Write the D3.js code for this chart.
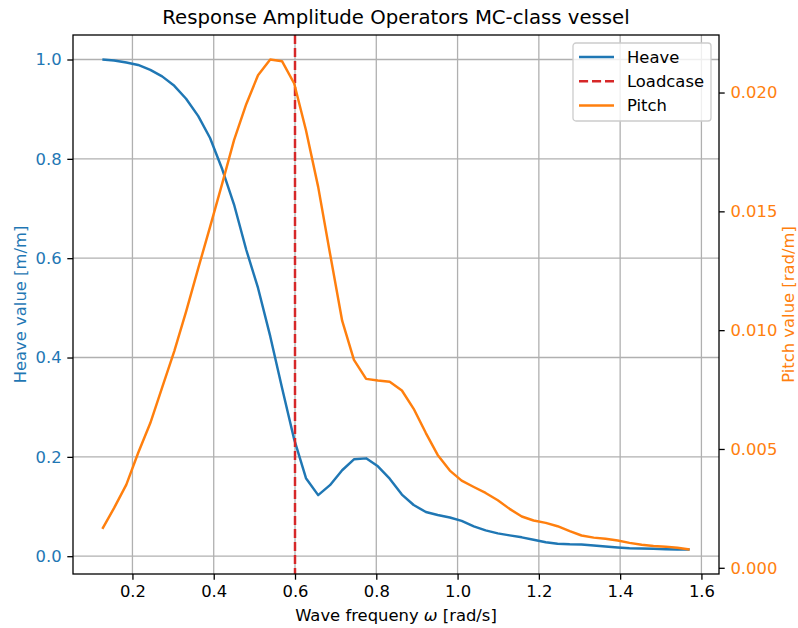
<!DOCTYPE html>
<html>
<head>
<meta charset="utf-8">
<script src="https://cdn.jsdelivr.net/npm/d3@7"></script>
<style>
    body { margin: 0; background: #fff; }
    #chart-area { width: 798px; height: 628px; }
    text { font-family: "DejaVu Sans", sans-serif; }
</style>
</head>
<body>
<div id="chart-area"></div>
<script>

// wave frequencies [rad/s]
var omega = [0.126, 0.155, 0.185, 0.214, 0.244, 0.273, 0.303, 0.332, 0.362, 0.391,
    0.421, 0.450, 0.480, 0.509, 0.539, 0.568, 0.598, 0.627, 0.657, 0.686,
    0.716, 0.745, 0.775, 0.804, 0.833, 0.863, 0.892, 0.922, 0.951, 0.981,
    1.010, 1.040, 1.069, 1.099, 1.128, 1.158, 1.187, 1.217, 1.246, 1.276,
    1.305, 1.335, 1.364, 1.394, 1.423, 1.453, 1.482, 1.512, 1.541, 1.571];

// heave RAO [m/m]
var heave = [1.000, 0.998, 0.994, 0.989, 0.979, 0.966, 0.947, 0.921, 0.886, 0.842,
    0.779, 0.708, 0.617, 0.540, 0.443, 0.339, 0.235, 0.157, 0.123, 0.143,
    0.173, 0.195, 0.197, 0.181, 0.156, 0.124, 0.103, 0.089, 0.083, 0.078,
    0.071, 0.060, 0.052, 0.046, 0.042, 0.038, 0.033, 0.028, 0.025, 0.024,
    0.0236, 0.0215, 0.0195, 0.0175, 0.016, 0.0155, 0.0149, 0.014, 0.0135, 0.0135];

// pitch RAO [rad/m]
var pitch = [0.00164, 0.00252, 0.00350, 0.00483, 0.00609, 0.00758, 0.00912, 0.01078, 0.01261, 0.01435,
    0.01618, 0.01800, 0.01951, 0.02073, 0.02139, 0.02132, 0.02038, 0.01841, 0.01603, 0.01324,
    0.01040, 0.00875, 0.00795, 0.00788, 0.00783, 0.00746, 0.00669, 0.00567, 0.00475, 0.00409,
    0.00367, 0.00340, 0.00315, 0.00284, 0.00248, 0.00216, 0.00199, 0.00189, 0.00175, 0.00154,
    0.00136, 0.00127, 0.00122, 0.00115, 0.00105, 0.00097, 0.00092, 0.00089, 0.00084, 0.00077];

var loadcase = 0.6;
var legendNames = ["Heave", "Loadcase", "Pitch"];

var xTicks = [0.2, 0.4, 0.6, 0.8, 1.0, 1.2, 1.4, 1.6];
var heaveTicks = [0.0, 0.2, 0.4, 0.6, 0.8, 1.0];
var pitchTicks = [0.000, 0.005, 0.010, 0.015, 0.020];


RaoVis = function(_parentElement){
    this.parentElement = _parentElement;
    this.initVis();
}

RaoVis.prototype.initVis = function(){
    var vis = this;

    vis.margin = { top: 35, right: 79, bottom: 54, left: 73 };
    vis.width = 798 - vis.margin.left - vis.margin.right;
    vis.height = 628 - vis.margin.top - vis.margin.bottom;

    vis.colors = { heave: "#1f77b4", pitch: "#ff7f0e", load: "#d62728" };
    vis.fontSize = 16.4;
    vis.lw = 2.46;

    vis.svg = d3.select("#" + vis.parentElement).append("svg")
        .attr("width", 798)
        .attr("height", 628)
        .append("g")
        .attr("transform", "translate(" + vis.margin.left + "," + vis.margin.top + ")");

    // matplotlib style 5% margins round the data
    function pad(ext){
        var r = ext[1] - ext[0];
        return [ext[0] - 0.05 * r, ext[1] + 0.05 * r];
    }

    vis.x = d3.scaleLinear().domain(pad(d3.extent(omega))).range([0, vis.width]);
    vis.y = d3.scaleLinear().domain(pad(d3.extent(heave))).range([vis.height, 0]);
    vis.y2 = d3.scaleLinear().domain(pad(d3.extent(pitch))).range([vis.height, 0]);

    // grid
    vis.svg.append("g").attr("class", "grid")
        .selectAll("line.gx").data(xTicks).enter().append("line")
        .attr("x1", d => vis.x(d)).attr("x2", d => vis.x(d))
        .attr("y1", 0).attr("y2", vis.height)
        .attr("stroke", "#b0b0b0").attr("stroke-width", 1.3);
    vis.svg.append("g").attr("class", "grid")
        .selectAll("line.gy").data(heaveTicks).enter().append("line")
        .attr("x1", 0).attr("x2", vis.width)
        .attr("y1", d => vis.y(d)).attr("y2", d => vis.y(d))
        .attr("stroke", "#b0b0b0").attr("stroke-width", 1.3);

    vis.updateVis();
}

RaoVis.prototype.updateVis = function(){
    var vis = this;

    var heaveLine = d3.line()
        .x((d, i) => vis.x(omega[i]))
        .y(d => vis.y(d));
    var pitchLine = d3.line()
        .x((d, i) => vis.x(omega[i]))
        .y(d => vis.y2(d));

    vis.svg.append("path")
        .datum(heave)
        .attr("fill", "none")
        .attr("stroke", vis.colors.heave)
        .attr("stroke-width", vis.lw)
        .attr("stroke-linejoin", "round")
        .attr("d", heaveLine);

    vis.svg.append("line")
        .attr("x1", vis.x(loadcase)).attr("x2", vis.x(loadcase))
        .attr("y1", 0).attr("y2", vis.height)
        .attr("stroke", vis.colors.load)
        .attr("stroke-width", vis.lw)
        .attr("stroke-dasharray", "9.1,3.9");

    vis.svg.append("path")
        .datum(pitch)
        .attr("fill", "none")
        .attr("stroke", vis.colors.pitch)
        .attr("stroke-width", vis.lw)
        .attr("stroke-linejoin", "round")
        .attr("d", pitchLine);

    // axes
    var tickLen = 5.7, tickPad = 5.7;
    vis.xAxis = d3.axisBottom(vis.x).tickValues(xTicks).tickFormat(d3.format(".1f"))
        .tickSize(tickLen).tickPadding(tickPad);
    vis.yAxis = d3.axisLeft(vis.y).tickValues(heaveTicks).tickFormat(d3.format(".1f"))
        .tickSize(tickLen).tickPadding(tickPad);
    vis.y2Axis = d3.axisRight(vis.y2).tickValues(pitchTicks).tickFormat(d3.format(".3f"))
        .tickSize(tickLen).tickPadding(tickPad);

    var gx = vis.svg.append("g")
        .attr("class", "x-axis axis")
        .attr("transform", "translate(0," + vis.height + ")")
        .call(vis.xAxis);
    var gy = vis.svg.append("g")
        .attr("class", "y-axis axis")
        .call(vis.yAxis);
    var gy2 = vis.svg.append("g")
        .attr("class", "y2-axis axis")
        .attr("transform", "translate(" + vis.width + ",0)")
        .call(vis.y2Axis);

    [gx, gy, gy2].forEach(function(g){
        g.select(".domain").remove();
        g.selectAll(".tick line").attr("stroke", "#000").attr("stroke-width", 1.3);
        g.selectAll(".tick text")
            .attr("font-size", vis.fontSize)
            .attr("font-family", "DejaVu Sans");
    });
    gx.selectAll(".tick text").attr("fill", "#000");
    gy.selectAll(".tick text").attr("fill", vis.colors.heave);
    gy2.selectAll(".tick text").attr("fill", vis.colors.pitch);

    // frame
    vis.svg.append("rect")
        .attr("width", vis.width).attr("height", vis.height)
        .attr("fill", "none").attr("stroke", "#000").attr("stroke-width", 1.3);

    // labels
    vis.svg.append("text")
        .attr("x", vis.width / 2).attr("y", -11)
        .attr("text-anchor", "middle")
        .attr("font-size", 19.7)
        .text("Response Amplitude Operators MC-class vessel");

    var xl = vis.svg.append("text")
        .attr("x", vis.width / 2).attr("y", vis.height + 47)
        .attr("text-anchor", "middle")
        .attr("font-size", vis.fontSize);
    xl.append("tspan").text("Wave frequeny ");
    xl.append("tspan").attr("font-style", "italic").text("\u03C9");
    xl.append("tspan").text(" [rad/s]");

    vis.svg.append("text")
        .attr("transform", "translate(" + (-47) + "," + (vis.height / 2) + ") rotate(-90)")
        .attr("text-anchor", "middle")
        .attr("font-size", vis.fontSize)
        .attr("fill", vis.colors.heave)
        .text("Heave value [m/m]");

    vis.svg.append("text")
        .attr("transform", "translate(" + (vis.width + 75) + "," + (vis.height / 2) + ") rotate(-90)")
        .attr("text-anchor", "middle")
        .attr("font-size", vis.fontSize)
        .attr("fill", vis.colors.pitch)
        .text("Pitch value [rad/m]");

    // legend
    var lg = vis.svg.append("g")
        .attr("transform", "translate(" + (vis.width - 146) + ",8)");
    lg.append("rect")
        .attr("width", 138).attr("height", 78)
        .attr("rx", 3)
        .attr("fill", "#fff").attr("fill-opacity", 0.8)
        .attr("stroke", "#cccccc").attr("stroke-width", 1.3);

    var legendStyle = [
        { color: vis.colors.heave, dash: null },
        { color: vis.colors.load, dash: "9.1,3.9" },
        { color: vis.colors.pitch, dash: null }
    ];
    var items = lg.selectAll(".legend-item")
        .data(legendNames)
        .enter().append("g")
        .attr("class", "legend-item")
        .attr("transform", (d, i) => "translate(0," + (14 + i * 24.3) + ")");
    items.append("line")
        .attr("x1", 6).attr("x2", 41)
        .attr("stroke", (d, i) => legendStyle[i].color)
        .attr("stroke-width", vis.lw)
        .attr("stroke-dasharray", (d, i) => legendStyle[i].dash);
    items.append("text")
        .attr("x", 54).attr("y", 5.8)
        .attr("font-size", vis.fontSize)
        .text(d => d);
}

var raoVis = new RaoVis("chart-area");

</script>
</body>
</html>
